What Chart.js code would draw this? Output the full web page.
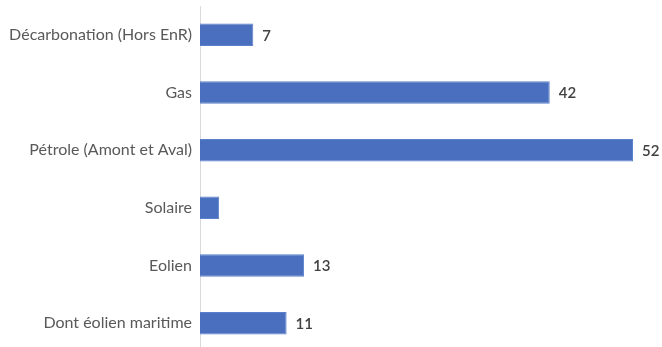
<!DOCTYPE html>
<html><head><meta charset="utf-8">
<script src="https://cdn.jsdelivr.net/npm/chart.js@4/dist/chart.umd.min.js"></script>
<style>html,body{margin:0;padding:0;background:#fff;overflow:hidden}#wrap{width:662px;height:352px}</style>
</head><body><div id="wrap"><canvas id="c"></canvas></div>
<script>
const categories = ["Décarbonation (Hors EnR)", "Gas", "Pétrole (Amont et Aval)", "Solaire", "Eolien", "Dont éolien maritime"];
// bar lengths as drawn in the picture
const values = [6.4, 42, 52, 2.3, 12.5, 10.4];
// labels printed next to the bars
const valueLabels = ["7", "42", "52", "", "13", "11"];

const labelPlugin = {
  id: 'barLabels',
  afterDatasetsDraw(chart) {
    const ctx = chart.ctx;
    const meta = chart.getDatasetMeta(0);
    ctx.save();
    ctx.font = '600 15px Lato';
    ctx.fillStyle = '#404040';
    ctx.textBaseline = 'middle';
    ctx.textAlign = 'left';
    meta.data.forEach((bar, i) => {
      if (valueLabels[i]) ctx.fillText(valueLabels[i], bar.x + 9, bar.y + 1);
    });
    ctx.restore();
  }
};

new Chart(document.getElementById('c'), {
  type: 'bar',
  data: { labels: categories, datasets: [{ data: values, backgroundColor: '#4A6FBE', borderColor: '#5B80CC', borderWidth: 1, barPercentage: 0.39, categoryPercentage: 1 }] },
  options: {
    indexAxis: 'y', responsive: true, maintainAspectRatio: false, animation: false,
    layout: { padding: { top: 6, right: 4, left: 0, bottom: 0 } },
    plugins: { legend: { display: false }, tooltip: { enabled: false } },
    scales: {
      x: { display: false, min: 0, max: 55 },
      y: {
        grid: { display: false, drawTicks: false },
        border: { display: true, color: '#d9d9d9', width: 1 },
        ticks: { color: '#595959', font: { family: 'Lato', size: 16 }, padding: 8 },
        afterFit(scale) { scale.width = 200; scale.paddingTop = 0; scale.paddingBottom = 0; }
      }
    }
  },
  plugins: [labelPlugin]
});
</script></body></html>
